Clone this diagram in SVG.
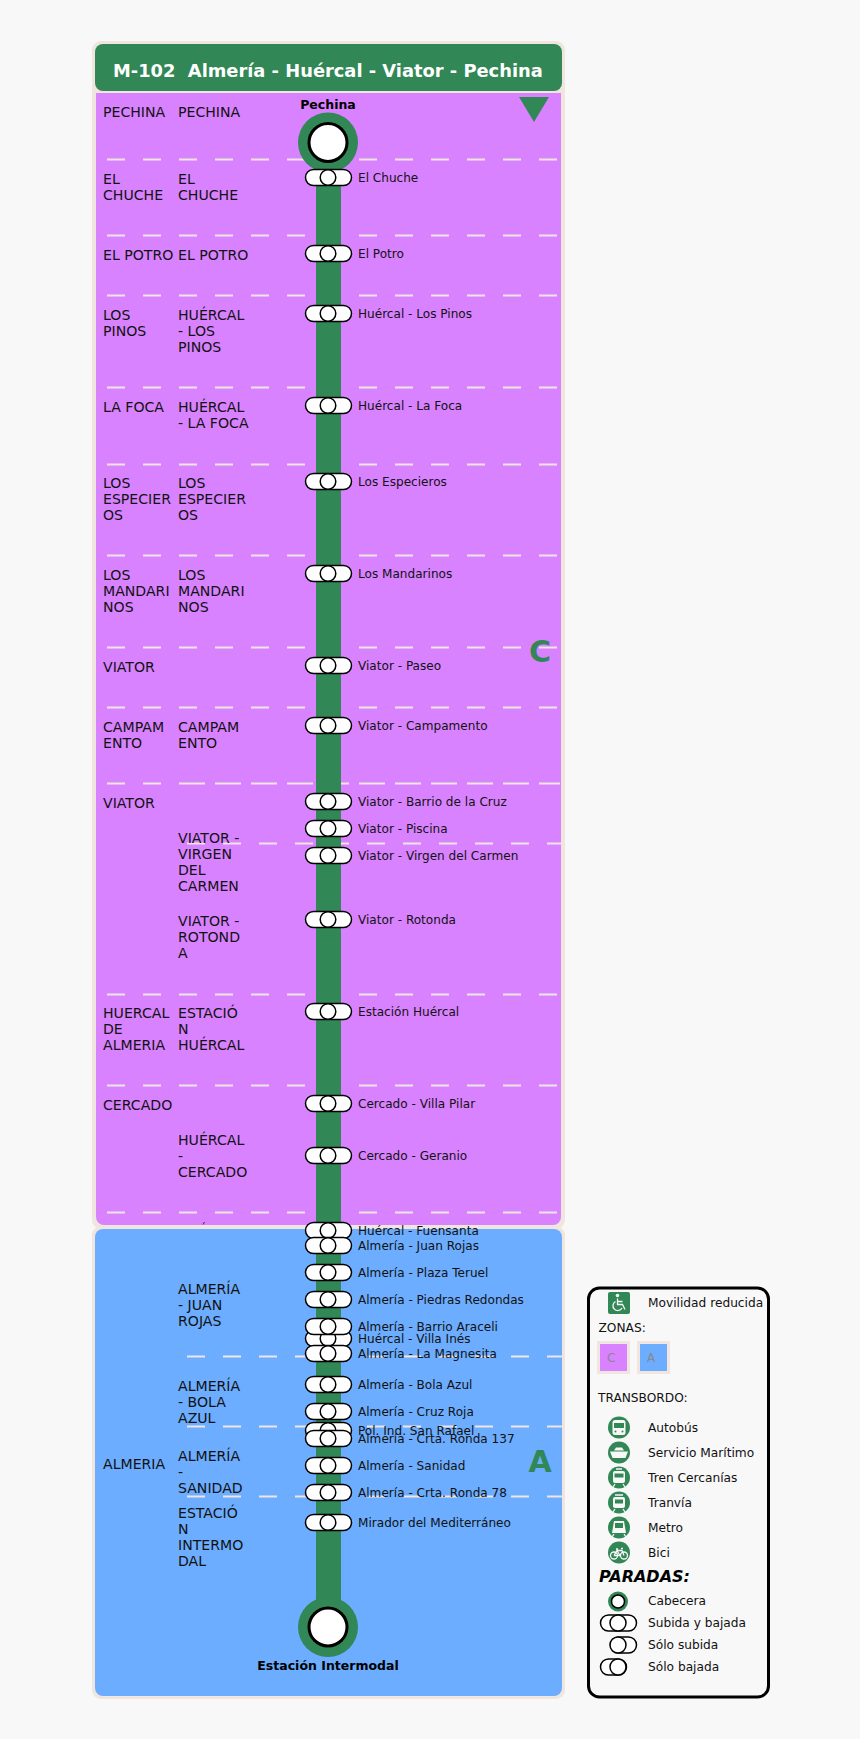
<svg xmlns="http://www.w3.org/2000/svg" width="860" height="1739" viewBox="0 0 860 1739">
<style>
text{font-family:"DejaVu Sans",sans-serif;fill:#111}
.c{font-size:14.1px}
.s{font-size:12.08px}
.b{font-size:12.5px;font-weight:bold;text-anchor:middle;fill:#000}
.z{font-size:30px;font-weight:bold;text-anchor:middle;fill:#318755}
.l{font-size:12.2px}
.d{stroke:#f0e6df;stroke-width:2;stroke-dasharray:18 18;fill:none}
.p{fill:#fff;stroke:#000;stroke-width:1.5}
.ic{fill:#318755}
.w{fill:#f8f8f8}
.wl{stroke:#f8f8f8;fill:none;stroke-width:1.3}
</style>
<defs>
<g id="stop"><rect class="p" x="305.500" y="-8" width="46" height="16" rx="8"/><circle class="p" cx="328" cy="0" r="7.800"/></g>
</defs>
<rect width="860" height="1739" fill="#f8f8f8"/>
<g id="zone-c">
<rect x="92" y="41" width="473" height="1188" rx="9" fill="#f0e6df"/>
<rect x="96" y="93" width="465" height="1132" rx="8" fill="#d982ff"/>
<rect x="96" y="93" width="465" height="20" fill="#d982ff"/>
</g>
<g id="zone-a">
<rect x="92" y="1226" width="473" height="473" rx="9" fill="#f0e6df"/>
<rect x="95" y="1229" width="467" height="467" rx="8" fill="#6cadff"/>
</g>
<g id="header">
<rect x="95" y="44" width="467" height="47" rx="8" fill="#318755"/>
<text x="113" y="76.500" style="font-size:17.85px;font-weight:bold;fill:#fff" xml:space="preserve">M-102  Almería - Huércal - Viator - Pechina</text>
</g>
<path d="M203.200 1224.500l1.200-2.500" stroke="#111" stroke-width="0.8"/>
<g id="zone-dividers">
<path class="d" d="M107 159.500H560M107 235.500H560M107 295.500H560M107 387.500H560M107 464.500H560M107 555.500H560M107 647.500H560M107 707.500H560M107 783.500H560M187 783.500H560M187 843.500H562M107 994.500H560M107 1085.500H560M107 1212.500H560M187 1356.500H562M187 1426.500H562M187 1496.500H562"/>
</g>
<g id="connectors">
<rect x="316" y="143" width="25" height="1484" fill="#318755"/>
</g>
<path id="direction" d="M519 97H549L534 122Z" fill="#318755"/>
<text class="z" x="540" y="662">C</text>
<text class="z" x="540" y="1472">A</text>

<g id="terminal-pechina"><circle cx="328" cy="142.500" r="30" fill="#318755"/><circle cx="328" cy="142.500" r="19" fill="#fff" stroke="#000" stroke-width="3"/><text class="b" x="328" y="109">Pechina</text></g>
<g id="terminal-intermodal"><circle cx="328" cy="1627" r="30" fill="#318755"/><circle cx="328" cy="1627" r="19" fill="#fff" stroke="#000" stroke-width="3"/><text class="b" x="328" y="1670">Estación Intermodal</text></g>

<g id="stop-el-chuche"><use href="#stop" y="177.500"/><text class="s" x="358" y="182">El Chuche</text></g>
<g id="stop-el-potro"><use href="#stop" y="253.500"/><text class="s" x="358" y="258">El Potro</text></g>
<g id="stop-los-pinos"><use href="#stop" y="313.500"/><text class="s" x="358" y="318">Huércal - Los Pinos</text></g>
<g id="stop-la-foca"><use href="#stop" y="405.500"/><text class="s" x="358" y="410">Huércal - La Foca</text></g>
<g id="stop-especieros"><use href="#stop" y="481.500"/><text class="s" x="358" y="486">Los Especieros</text></g>
<g id="stop-mandarinos"><use href="#stop" y="573.500"/><text class="s" x="358" y="578">Los Mandarinos</text></g>
<g id="stop-paseo"><use href="#stop" y="665.500"/><text class="s" x="358" y="670">Viator - Paseo</text></g>
<g id="stop-campamento"><use href="#stop" y="725.500"/><text class="s" x="358" y="730">Viator - Campamento</text></g>
<g id="stop-barrio-cruz"><use href="#stop" y="801.500"/><text class="s" x="358" y="806">Viator - Barrio de la Cruz</text></g>
<g id="stop-piscina"><use href="#stop" y="828.500"/><text class="s" x="358" y="833">Viator - Piscina</text></g>
<g id="stop-virgen"><use href="#stop" y="855.500"/><text class="s" x="358" y="860">Viator - Virgen del Carmen</text></g>
<g id="stop-rotonda"><use href="#stop" y="919.500"/><text class="s" x="358" y="924">Viator - Rotonda</text></g>
<g id="stop-estacion-huercal"><use href="#stop" y="1011.500"/><text class="s" x="358" y="1016">Estación Huércal</text></g>
<g id="stop-villa-pilar"><use href="#stop" y="1103.500"/><text class="s" x="358" y="1108">Cercado - Villa Pilar</text></g>
<g id="stop-geranio"><use href="#stop" y="1155.500"/><text class="s" x="358" y="1160">Cercado - Geranio</text></g>
<g id="stop-fuensanta"><use href="#stop" y="1230.500"/><text class="s" x="358" y="1235">Huércal - Fuensanta</text></g>
<g id="stop-juan-rojas"><use href="#stop" y="1245.500"/><text class="s" x="358" y="1250">Almería - Juan Rojas</text></g>
<g id="stop-plaza-teruel"><use href="#stop" y="1272.500"/><text class="s" x="358" y="1277">Almería - Plaza Teruel</text></g>
<g id="stop-piedras"><use href="#stop" y="1299.500"/><text class="s" x="358" y="1304">Almería - Piedras Redondas</text></g>
<g id="stop-villa-ines"><use href="#stop" y="1338.500"/><text class="s" x="358" y="1343">Huércal - Villa Inés</text></g>
<g id="stop-araceli"><use href="#stop" y="1326.500"/><text class="s" x="358" y="1331">Almería - Barrio Araceli</text></g>
<g id="stop-magnesita"><use href="#stop" y="1353.500"/><text class="s" x="358" y="1358">Almería - La Magnesita</text></g>
<g id="stop-bola-azul"><use href="#stop" y="1384.500"/><text class="s" x="358" y="1389">Almería - Bola Azul</text></g>
<g id="stop-cruz-roja"><use href="#stop" y="1411.500"/><text class="s" x="358" y="1416">Almería - Cruz Roja</text></g>
<g id="stop-san-rafael"><use href="#stop" y="1430.500"/><text class="s" x="358" y="1435">Pol. Ind. San Rafael</text></g>
<g id="stop-ronda-137"><use href="#stop" y="1438.500"/><text class="s" x="358" y="1443">Almería - Crta. Ronda 137</text></g>
<g id="stop-sanidad"><use href="#stop" y="1465.500"/><text class="s" x="358" y="1470">Almería - Sanidad</text></g>
<g id="stop-ronda-78"><use href="#stop" y="1492.500"/><text class="s" x="358" y="1497">Almería - Crta. Ronda 78</text></g>
<g id="stop-mirador"><use href="#stop" y="1522.500"/><text class="s" x="358" y="1527">Mirador del Mediterráneo</text></g>

<g id="col-municipio">
<text class="c" x="103" y="117">PECHINA</text>
<text class="c" x="103" y="184">EL</text><text class="c" x="103" y="200">CHUCHE</text>
<text class="c" x="103" y="260">EL POTRO</text>
<text class="c" x="103" y="320">LOS</text><text class="c" x="103" y="336">PINOS</text>
<text class="c" x="103" y="412">LA FOCA</text>
<text class="c" x="103" y="488">LOS</text><text class="c" x="103" y="504">ESPECIER</text><text class="c" x="103" y="520">OS</text>
<text class="c" x="103" y="580">LOS</text><text class="c" x="103" y="596">MANDARI</text><text class="c" x="103" y="612">NOS</text>
<text class="c" x="103" y="672">VIATOR</text>
<text class="c" x="103" y="732">CAMPAM</text><text class="c" x="103" y="748">ENTO</text>
<text class="c" x="103" y="808">VIATOR</text>
<text class="c" x="103" y="1018">HUERCAL</text><text class="c" x="103" y="1034">DE</text><text class="c" x="103" y="1050">ALMERIA</text>
<text class="c" x="103" y="1110">CERCADO</text>
<text class="c" x="103" y="1469">ALMERIA</text>
</g>
<g id="col-nucleo">
<text class="c" x="178" y="117">PECHINA</text>
<text class="c" x="178" y="184">EL</text><text class="c" x="178" y="200">CHUCHE</text>
<text class="c" x="178" y="260">EL POTRO</text>
<text class="c" x="178" y="320">HUÉRCAL</text><text class="c" x="178" y="336">- LOS</text><text class="c" x="178" y="352">PINOS</text>
<text class="c" x="178" y="412">HUÉRCAL</text><text class="c" x="178" y="428">- LA FOCA</text>
<text class="c" x="178" y="488">LOS</text><text class="c" x="178" y="504">ESPECIER</text><text class="c" x="178" y="520">OS</text>
<text class="c" x="178" y="580">LOS</text><text class="c" x="178" y="596">MANDARI</text><text class="c" x="178" y="612">NOS</text>
<text class="c" x="178" y="732">CAMPAM</text><text class="c" x="178" y="748">ENTO</text>
<text class="c" x="178" y="843">VIATOR -</text><text class="c" x="178" y="859">VIRGEN</text><text class="c" x="178" y="875">DEL</text><text class="c" x="178" y="891">CARMEN</text>
<text class="c" x="178" y="926">VIATOR -</text><text class="c" x="178" y="942">ROTOND</text><text class="c" x="178" y="958">A</text>
<text class="c" x="178" y="1018">ESTACIÓ</text><text class="c" x="178" y="1034">N</text><text class="c" x="178" y="1050">HUÉRCAL</text>
<text class="c" x="178" y="1145">HUÉRCAL</text><text class="c" x="178" y="1161">-</text><text class="c" x="178" y="1177">CERCADO</text>
<text class="c" x="178" y="1294">ALMERÍA</text><text class="c" x="178" y="1310">- JUAN</text><text class="c" x="178" y="1326">ROJAS</text>
<text class="c" x="178" y="1391">ALMERÍA</text><text class="c" x="178" y="1407">- BOLA</text><text class="c" x="178" y="1423">AZUL</text>
<text class="c" x="178" y="1461">ALMERÍA</text><text class="c" x="178" y="1477">-</text><text class="c" x="178" y="1493">SANIDAD</text>
<text class="c" x="178" y="1518">ESTACIÓ</text><text class="c" x="178" y="1534">N</text><text class="c" x="178" y="1550">INTERMO</text><text class="c" x="178" y="1566">DAL</text>
</g>

<g id="legend">
<rect x="588.500" y="1288" width="180" height="409" rx="11" fill="#f8f8f8" stroke="#000" stroke-width="3"/>
<g id="legend-wheelchair"><rect class="ic" x="608" y="1292" width="22" height="22" rx="2"/><circle class="w" cx="617.500" cy="1295.500" r="1.800"/><path class="wl" stroke-width="1.600" d="M617.500 1298.500v6h5l2.500 5M617.500 1301.500h5"/><path class="wl" d="M615.500 1301.500a4.800 4.800 0 1 0 6.500 6.500"/></g>
<text class="l" x="648" y="1307">Movilidad reducida</text>
<text class="l" x="598.500" y="1332">ZONAS:</text>
<g id="legend-zone-c"><rect x="597" y="1341" width="33" height="33" fill="#f0e6df"/><rect x="600" y="1344" width="27" height="27" fill="#d982ff"/><text x="607" y="1362" style="font-size:12px;fill:#888">C</text></g>
<g id="legend-zone-a"><rect x="637" y="1341" width="33" height="33" fill="#f0e6df"/><rect x="640" y="1344" width="27" height="27" fill="#6cadff"/><text x="647" y="1362" style="font-size:12px;fill:#888">A</text></g>
<text class="l" x="598" y="1402">TRANSBORDO:</text>
<g id="legend-bus"><circle class="ic" cx="619" cy="1427.500" r="11"/><rect class="w" x="612.500" y="1420" width="13" height="15" rx="2.500"/><rect class="ic" x="614" y="1423" width="10" height="5"/><circle class="ic" cx="615.500" cy="1431.500" r="1"/><circle class="ic" cx="622.500" cy="1431.500" r="1"/></g>
<text class="l" x="648" y="1432">Autobús</text>
<g id="legend-boat"><circle class="ic" cx="619" cy="1452.500" r="11"/><path class="w" d="M610 1451.500h18l-2.500 6.500h-13Z"/><path class="w" d="M614 1450.500l2-3h6l2 3Z"/></g>
<text class="l" x="648" y="1457">Servicio Marítimo</text>
<g id="legend-train"><circle class="ic" cx="619" cy="1477.500" r="11"/><rect class="w" x="613" y="1471" width="12" height="12" rx="2"/><rect class="ic" x="614.500" y="1473.500" width="9" height="4"/><path class="wl" d="M615 1484l-2 3M623 1484l2 3M616 1469h6"/></g>
<text class="l" x="648" y="1482">Tren Cercanías</text>
<g id="legend-tram"><circle class="ic" cx="619" cy="1502.500" r="11"/><rect class="w" x="613" y="1497" width="12" height="11" rx="2"/><rect class="ic" x="615" y="1499.500" width="8" height="4"/><path class="wl" d="M615 1509l-2 3M623 1509l2 3M615 1495h8"/></g>
<text class="l" x="648" y="1507">Tranvía</text>
<g id="legend-metro"><circle class="ic" cx="619" cy="1527.500" r="11"/><path class="w" d="M614 1521h10l2 12h-14Z"/><rect class="ic" x="615" y="1523" width="8" height="5"/><path class="wl" d="M614 1534l-2 3M624 1534l2 3"/></g>
<text class="l" x="648" y="1532">Metro</text>
<g id="legend-bike"><circle class="ic" cx="619" cy="1552.500" r="11"/><circle class="wl" cx="614" cy="1555.500" r="3.500"/><circle class="wl" cx="624" cy="1555.500" r="3.500"/><path class="wl" d="M614 1555.500l3-5h5l2 5M617 1550.500l3 5h-6M616 1549h2M621 1548.500h2"/></g>
<text class="l" x="648" y="1557">Bici</text>
<text x="599" y="1582" style="font-size:16px;font-weight:bold;font-style:italic;fill:#000">PARADAS:</text>
<g id="legend-cabecera"><circle class="ic" cx="618" cy="1601.500" r="10"/><circle class="p" cx="618" cy="1601.500" r="6.500"/></g>
<text class="l" x="648" y="1605">Cabecera</text>
<g id="legend-both"><rect class="p" stroke-width="1" x="600.500" y="1615" width="36" height="16" rx="8"/><circle class="p" cx="618" cy="1623" r="8"/></g>
<text class="l" x="648" y="1627">Subida y bajada</text>
<g id="legend-up"><rect class="p" x="610.500" y="1637" width="26" height="16" rx="8"/><circle class="p" cx="618" cy="1645" r="8"/></g>
<text class="l" x="648" y="1649">Sólo subida</text>
<g id="legend-down"><rect class="p" x="600.500" y="1659" width="26" height="16" rx="8"/><circle class="p" cx="618" cy="1667" r="8"/></g>
<text class="l" x="648" y="1671">Sólo bajada</text>
</g>
</svg>
